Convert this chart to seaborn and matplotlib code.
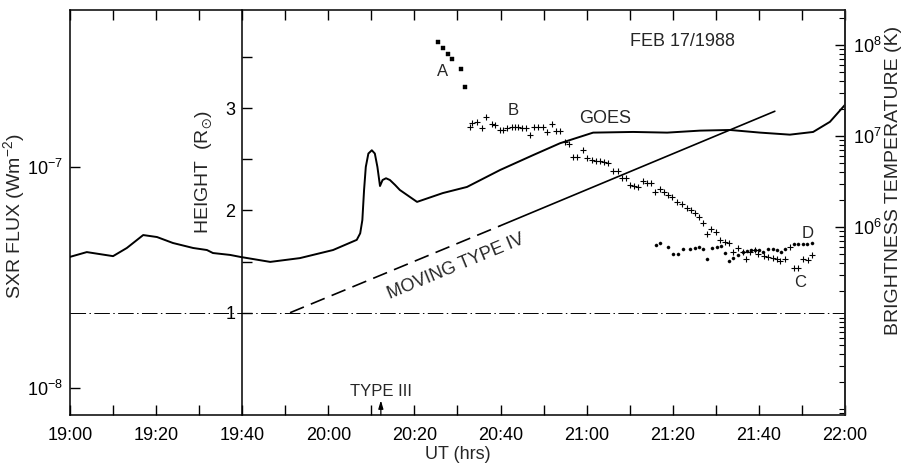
import numpy as np
import pandas as pd
import seaborn as sns
import matplotlib
matplotlib.use("Agg")
import matplotlib.pyplot as plt
from matplotlib.ticker import FixedLocator, NullLocator, LogLocator, NullFormatter

# ---------------- data (time = minutes after 19:00 UT) ----------------
goes_t = [0.0, 3.9, 10.0, 13.2, 17.0, 20.2, 23.9, 28.6, 31.8, 33.2, 37.2, 39.5,
          46.5, 53.4, 61.1, 66.6, 67.4, 67.9, 68.3, 68.7, 69.3, 70.1, 70.8, 71.4,
          72.0, 72.6, 73.4, 74.3, 75.5, 76.6, 80.6, 86.6, 92.2, 99.9, 107.5,
          113.8, 121.5, 130.8, 138.7, 146.3, 153.3, 160.3, 167.2, 172.6, 176.5, 180.0]
goes_flux = [3.92e-8, 4.12e-8, 3.95e-8, 4.30e-8, 4.92e-8, 4.82e-8, 4.53e-8, 4.30e-8,
             4.21e-8, 4.08e-8, 4.00e-8, 3.92e-8, 3.72e-8, 3.87e-8, 4.21e-8, 4.68e-8,
             5.01e-8, 5.75e-8, 7.87e-8, 1.00e-7, 1.15e-7, 1.19e-7, 1.15e-7, 1.00e-7,
             8.20e-8, 8.73e-8, 8.89e-8, 8.73e-8, 8.29e-8, 7.87e-8, 6.95e-8, 7.62e-8,
             8.12e-8, 9.69e-8, 1.13e-7, 1.28e-7, 1.43e-7, 1.44e-7, 1.43e-7, 1.46e-7,
             1.47e-7, 1.43e-7, 1.40e-7, 1.44e-7, 1.60e-7, 1.91e-7]

type4_dashed_t = [51.1, 99.9]
type4_dashed_h = [1.0, 1.85]
type4_solid_t = [99.9, 163.7]
type4_solid_h = [1.85, 2.97]

surface_height = 1.0
height_axis_time = 40.0     # 19:40
type3_time = 72.2           # 20:12

# brightness temperature, log10(T [K])
a_t = [85.5, 86.6, 87.8, 88.7, 90.8, 91.7]
a_logT = [8.03, 7.97, 7.90, 7.85, 7.74, 7.54]

b_t = [92.9, 93.4, 94.5, 95.7, 96.6, 98.0, 98.7, 99.9, 100.6, 101.5, 102.7, 103.4,
       104.1, 105.0, 105.9, 106.8, 107.8, 108.7, 109.9, 110.8, 112.0, 112.9, 113.8,
       115.0, 115.9, 116.8, 117.8, 119.2, 120.1, 121.2, 122.2, 123.1, 124.0, 125.0,
       126.1, 127.3, 128.2, 129.1, 130.1, 131.0, 131.9, 133.1, 134.0, 134.9, 135.9,
       137.0, 138.0, 138.9, 139.8, 141.0, 142.1, 143.3, 144.2, 145.2, 146.1, 147.0,
       148.0, 148.9, 150.0, 151.0, 152.1, 153.1, 154.0, 155.2, 156.3, 157.0, 157.9,
       159.1, 159.8, 161.2, 162.1, 163.3, 164.2, 164.9, 166.1, 167.2, 168.2, 169.1,
       170.2, 171.4, 172.3]
b_logT = [7.10, 7.14, 7.15, 7.09, 7.21, 7.13, 7.12, 7.07, 7.07, 7.09, 7.10, 7.10,
          7.10, 7.09, 7.09, 7.01, 7.10, 7.10, 7.10, 7.04, 7.13, 7.05, 7.05,
          6.93, 6.91, 6.77, 6.77, 6.85, 6.76, 6.74, 6.73, 6.73, 6.71, 6.70,
          6.62, 6.62, 6.54, 6.54, 6.46, 6.45, 6.44, 6.51, 6.48, 6.48, 6.38,
          6.42, 6.38, 6.35, 6.33, 6.27, 6.25, 6.21, 6.19, 6.15, 6.11, 6.04,
          5.92, 5.98, 5.95, 5.86, 5.84, 5.82, 5.73, 5.77, 5.73, 5.65, 5.73,
          5.75, 5.70, 5.68, 5.67, 5.66, 5.65, 5.63, 5.65, 5.78, 5.55, 5.55,
          5.65, 5.64, 5.69]

d_t = [136.1, 137.0, 138.9, 140.1, 141.2, 142.4, 144.0, 145.2, 146.1, 147.0, 148.0,
       149.1, 150.3, 151.2, 152.1, 153.1, 154.0, 155.2, 156.3, 157.2, 158.2, 159.1,
       160.0, 161.0, 162.1, 163.3, 164.2, 165.1, 166.1, 168.2, 169.1, 170.2, 171.2, 172.3]
d_logT = [5.80, 5.82, 5.78, 5.70, 5.70, 5.76, 5.76, 5.77, 5.78, 5.76, 5.65,
          5.77, 5.78, 5.79, 5.71, 5.63, 5.66, 5.69, 5.73, 5.74, 5.75, 5.75,
          5.75, 5.73, 5.76, 5.76, 5.75, 5.73, 5.76, 5.81, 5.81, 5.81, 5.81, 5.82]

x_ticks = list(range(0, 181, 10))
x_labels = ["19:00", "19:20", "19:40", "20:00", "20:20", "20:40",
            "21:00", "21:20", "21:40", "22:00"]

# ---------------- style ----------------
sns.set_theme(style="ticks")
plt.rcParams["font.family"] = ["Liberation Sans", "DejaVu Sans"]
plt.rcParams["mathtext.default"] = "regular"
plt.rcParams["axes.linewidth"] = 1.1
FS_TICK = 13
FS_LAB = 14

fig = plt.figure(figsize=(9.04, 4.68), dpi=100)
fig.patch.set_facecolor("white")
ax = fig.add_axes([70 / 904, 53 / 468, 775 / 904, 405 / 468])

# GOES flux
sns.lineplot(x=goes_t, y=goes_flux, ax=ax, color="black", lw=1.4,
             sort=False, estimator=None)
ax.set_yscale("log")
ax.set_xlim(0, 180)
ax.set_ylim(10 ** -8.122, 10 ** -6.290)
ax.set_xticks(x_ticks)
ax.set_xticklabels([x_labels[i // 2] if i % 2 == 0 else "" for i in range(len(x_ticks))],
                   fontsize=FS_TICK)
ax.yaxis.set_major_locator(FixedLocator([1e-8, 1e-7]))
ax.yaxis.set_minor_locator(NullLocator())
ax.set_yticklabels(["$10^{-8}$", "$10^{-7}$"], fontsize=FS_TICK)
ax.tick_params(axis="x", which="both", direction="in", top=True, length=7,
               width=1.0, pad=9, colors="black")
ax.tick_params(axis="y", which="both", direction="in", right=False, length=7,
               width=1.0, pad=5, colors="black")
ax.set_xlabel("UT (hrs)", fontsize=FS_TICK, labelpad=1)
ax.set_ylabel("SXR FLUX (Wm$^{-2}$)", fontsize=FS_LAB)
ax.yaxis.set_label_coords(-0.056, 0.49)
for s in ax.spines.values():
    s.set_color("black")

# Height axis (on the 19:40 line)
ax_h = ax.twinx()
ax_h.set_ylim(0, 3.96)
sns.lineplot(x=type4_dashed_t, y=type4_dashed_h, ax=ax_h, color="black", lw=1.2,
             sort=False, estimator=None)
ax_h.lines[-1].set_linestyle((0, (9, 4.5)))
sns.lineplot(x=type4_solid_t, y=type4_solid_h, ax=ax_h, color="black", lw=1.2,
             sort=False, estimator=None)
ax_h.axhline(surface_height, color="black", lw=0.7, linestyle=(0, (16, 3.5, 1.5, 3.5)))
for name in ["right", "top", "bottom"]:
    ax_h.spines[name].set_visible(False)
ax_h.spines["left"].set_visible(True)
ax_h.spines["left"].set_position(("data", height_axis_time))
ax_h.spines["left"].set_color("black")
ax_h.yaxis.set_ticks_position("left")
ax_h.yaxis.set_major_locator(FixedLocator([1, 2, 3]))
ax_h.yaxis.set_minor_locator(FixedLocator([1.5, 2.5, 3.5]))
ax_h.set_yticklabels(["1", "2", "3"], fontsize=FS_TICK)
ax_h.tick_params(axis="y", which="both", direction="in", left=True, right=False,
                 labelleft=True, labelright=False, length=7, width=1.0, pad=5,
                 colors="black")
ax_h.set_ylabel("")
ax_h.set_xlabel("")

# Brightness temperature axis
ax_t = ax.twinx()
ax_t.set_yscale("log")
sns.scatterplot(x=a_t, y=np.power(10.0, a_logT), ax=ax_t, marker="s", s=12,
                color="black", edgecolor="black", linewidth=0.3)
sns.scatterplot(x=b_t, y=np.power(10.0, b_logT), ax=ax_t, marker="+", s=22,
                color="black", linewidth=0.8)
sns.scatterplot(x=d_t, y=np.power(10.0, d_logT), ax=ax_t, marker="o", s=5,
                color="black", edgecolor="black", linewidth=0.3)
ax_t.set_ylim(10 ** 3.934, 10 ** 8.385)
ax_t.yaxis.set_major_locator(FixedLocator([1e6, 1e7, 1e8]))
ax_t.yaxis.set_minor_locator(LogLocator(base=10, subs=np.arange(1, 10), numticks=20))
ax_t.yaxis.set_minor_formatter(NullFormatter())
ax_t.set_yticklabels(["$10^{6}$", "$10^{7}$", "$10^{8}$"], fontsize=FS_TICK)
ax_t.tick_params(axis="y", which="major", direction="in", length=7, width=1.0,
                 pad=6, colors="black")
ax_t.tick_params(axis="y", which="minor", direction="in", length=4, width=0.8,
                 colors="black")
for name in ["left", "top", "bottom"]:
    ax_t.spines[name].set_visible(False)
ax_t.set_ylabel("")
ax.text(1.063, 0.58, "BRIGHTNESS TEMPERATURE (K)", transform=ax.transAxes,
        rotation=90, ha="center", va="center", fontsize=FS_LAB)

# Annotations
ax.text(0.172, 0.60, "HEIGHT  (R$_{\\odot}$)", transform=ax.transAxes,
        rotation=90, ha="center", va="center", fontsize=FS_LAB)
ax.text(0.790, 0.921, "FEB 17/1988", transform=ax.transAxes,
        ha="center", va="center", fontsize=13)
ax.text(0.690, 0.733, "GOES", transform=ax.transAxes,
        ha="center", va="center", fontsize=13)
ax.text(0.481, 0.847, "A", transform=ax.transAxes, ha="center", va="center", fontsize=12)
ax.text(0.572, 0.753, "B", transform=ax.transAxes, ha="center", va="center", fontsize=12)
ax.text(0.942, 0.326, "C", transform=ax.transAxes, ha="center", va="center", fontsize=12)
ax.text(0.952, 0.449, "D", transform=ax.transAxes, ha="center", va="center", fontsize=12)
ax.text(0.498, 0.365, "MOVING TYPE IV", transform=ax.transAxes, rotation=22.5,
        rotation_mode="anchor", ha="center", va="center", fontsize=13)
ax.text(0.401, 0.058, "TYPE III", transform=ax.transAxes,
        ha="center", va="center", fontsize=12)
ax.annotate("", xy=(type3_time, 0.036), xytext=(type3_time, 0.0),
            xycoords=ax.get_xaxis_transform(), textcoords=ax.get_xaxis_transform(),
            arrowprops=dict(arrowstyle="-|>,head_length=0.4,head_width=0.12",
                            color="black", lw=0.9, shrinkA=0, shrinkB=0))

fig.savefig("out.png", dpi=100, facecolor="white")
